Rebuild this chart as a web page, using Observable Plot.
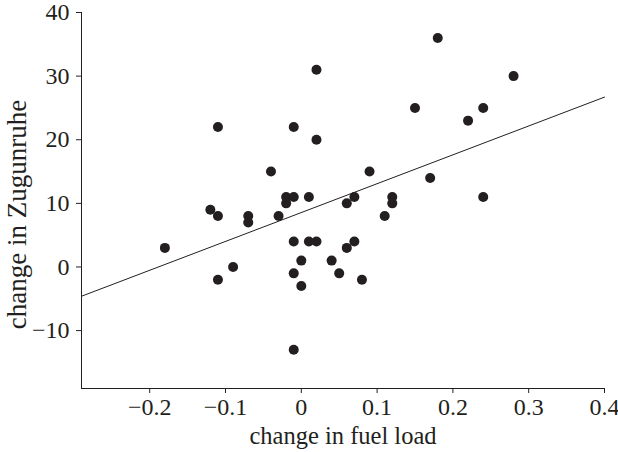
<!DOCTYPE html>
<html>
<head>
<meta charset="utf-8">
<script src="https://cdn.jsdelivr.net/npm/d3@7"></script>
<script src="https://cdn.jsdelivr.net/npm/@observablehq/plot@0.6"></script>
<style>
  html, body { margin: 0; padding: 0; background: #fff; }
  #chart svg { display: block; }
  #chart g[aria-label="x-axis label"] text { font-size: 24.5px; }
</style>
</head>
<body>
<div id="chart"></div>
<script>
// Change in fuel load (x) and change in Zugunruhe (y), one value per bird
const fuelChange = [
  -0.18, -0.12, -0.11, -0.11, -0.11, -0.09, -0.07, -0.07, -0.04, -0.03,
  -0.02, -0.02, -0.01, -0.01, -0.01, -0.01, -0.01, 0.00, 0.00, 0.01,
  0.01, 0.02, 0.02, 0.02, 0.04, 0.05, 0.06, 0.06, 0.07, 0.07,
  0.08, 0.09, 0.11, 0.12, 0.12, 0.15, 0.17, 0.18, 0.22, 0.24,
  0.24, 0.28
];
const zugunruheChange = [
  3, 9, 22, 8, -2, 0, 8, 7, 15, 8,
  11, 10, 22, 11, 4, -1, -13, 1, -3, 11,
  4, 4, 31, 20, 1, -1, 10, 3, 11, 4,
  -2, 15, 8, 11, 10, 25, 14, 36, 23, 25,
  11, 30
];
// Fitted regression line, read at the two ends of the x axis
const fitX = [-0.29, 0.4];
const fitY = [-4.6, 26.7];

const xTicks = [-0.2, -0.1, 0, 0.1, 0.2, 0.3, 0.4];
const yTicks = [-10, 0, 10, 20, 30, 40];
const yTitle = "change in Zugunruhe";
const xTitle = "change in fuel load";

const points = fuelChange.map((x, i) => ({x, y: zugunruheChange[i]}));
const fit = fitX.map((x, i) => ({x, y: fitY[i]}));
const fmt = d => String(d).replace("-", "\u2212");

const chart = Plot.plot({
  width: 618,
  height: 452,
  marginLeft: 81,
  marginRight: 14,
  marginTop: 12,
  marginBottom: 64,
  style: {fontFamily: "'Liberation Serif', 'Times New Roman', serif", fontSize: "24px", color: "#231f20", background: "#fff"},
  x: {domain: [-0.29, 0.4]},
  y: {domain: [-19.1, 40]},
  marks: [
    Plot.frame({anchor: "left", stroke: "#231f20", strokeWidth: 1}),
    Plot.frame({anchor: "bottom", stroke: "#231f20", strokeWidth: 1}),
    Plot.axisX({ticks: xTicks, tickFormat: fmt, tickSize: 5, tickPadding: 4,
      fontSize: 24, label: null}),
    Plot.axisX({ticks: [], label: xTitle, labelAnchor: "center", labelArrow: "none", labelOffset: 55}),
    Plot.axisY({ticks: yTicks, tickFormat: fmt, tickSize: 5, tickPadding: 7,
      fontSize: 24, label: null}),
    Plot.text([yTitle], {frameAnchor: "left", text: d => d, rotate: -90, textAnchor: "middle",
      lineAnchor: "bottom", dx: -56, dy: 14, fontSize: 27, fill: "#231f20"}),
    Plot.line(fit, {x: "x", y: "y", stroke: "#231f20", strokeWidth: 1}),
    Plot.dot(points, {x: "x", y: "y", r: 5, fill: "#231f20", stroke: "none"})
  ]
});
document.getElementById("chart").append(chart);
</script>
</body>
</html>
